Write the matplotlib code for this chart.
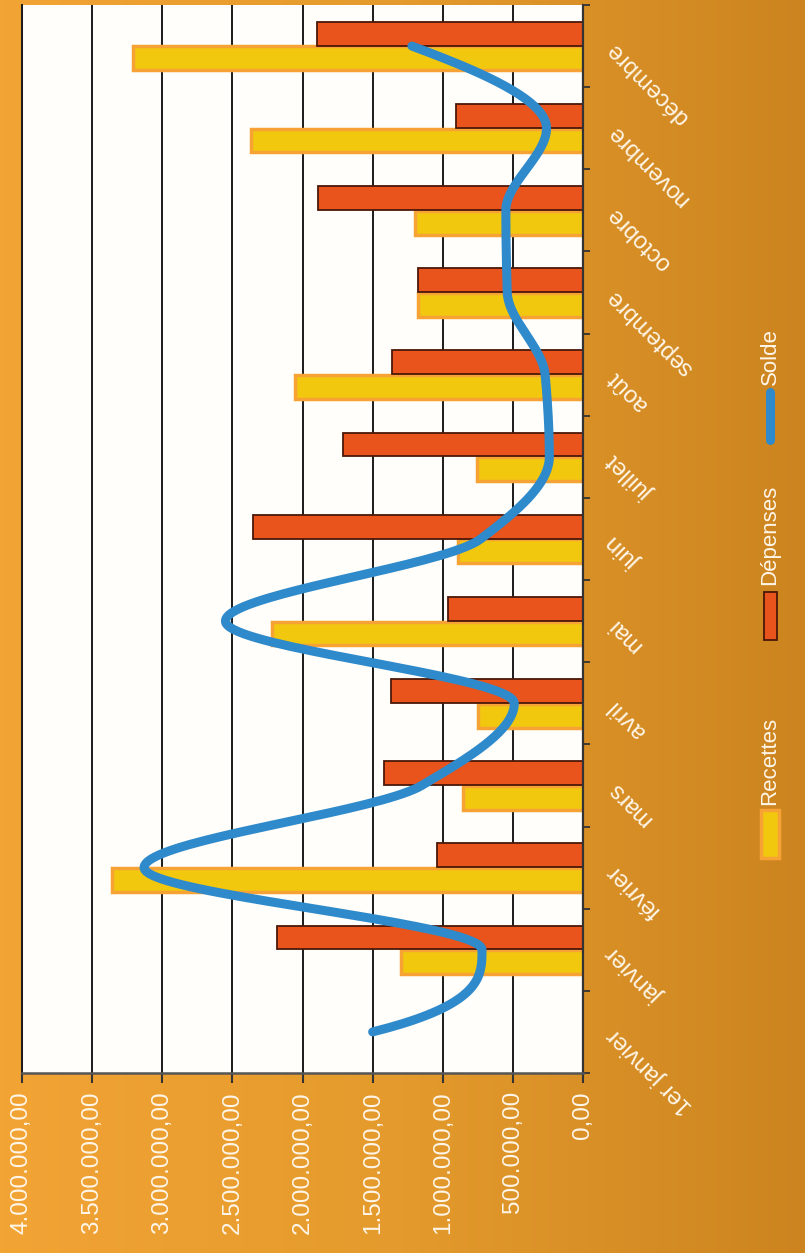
import numpy as np
import matplotlib.pyplot as plt
from matplotlib.colors import LinearSegmentedColormap
from matplotlib.ticker import FuncFormatter
from matplotlib.patches import Rectangle
from matplotlib.lines import Line2D

# Donnees
categories = ['1er janvier', 'janvier', 'février', 'mars', 'avril', 'mai', 'juin',
              'juillet', 'août', 'septembre', 'octobre', 'novembre', 'décembre']
recettes = [1.30e6, 3.355e6, 0.855e6, 0.75e6, 2.22e6, 0.89e6, 0.755e6, 2.05e6,
            1.18e6, 1.20e6, 2.37e6, 3.21e6]
depenses = [2.18e6, 1.04e6, 1.42e6, 1.37e6, 0.96e6, 2.35e6, 1.71e6, 1.36e6,
            1.18e6, 1.89e6, 0.905e6, 1.895e6]
solde = [1.50e6, 0.72e6, 3.13e6, 1.15e6, 0.49e6, 2.55e6, 0.73e6, 0.24e6, 0.27e6,
         0.54e6, 0.55e6, 0.26e6, 1.22e6]
ticks_valeurs = np.arange(0, 4.5e6, 5e5)

plt.rcParams['font.family'] = 'Liberation Sans'


def pchip(y, n=40):
    # courbe lissee (hermite monotone) entre les points
    y = np.asarray(y, float)
    delta = np.diff(y)
    d = np.zeros_like(y)
    for k in range(1, len(y) - 1):
        if delta[k - 1] * delta[k] > 0:
            d[k] = 2.0 / (1.0 / delta[k - 1] + 1.0 / delta[k])
    for k, (a, b) in [(0, (delta[0], delta[1])), (len(y) - 1, (delta[-1], delta[-2]))]:
        v = (3 * a - b) / 2
        if np.sign(v) != np.sign(a):
            v = 0
        elif np.sign(a) != np.sign(b) and abs(v) > abs(3 * a):
            v = 3 * a
        d[k] = v
    ts, xs = [], []
    for k in range(len(y) - 1):
        s = np.linspace(0, 1, n)
        h00 = 2 * s**3 - 3 * s**2 + 1
        h10 = s**3 - 2 * s**2 + s
        h01 = -2 * s**3 + 3 * s**2
        h11 = s**3 - s**2
        xs.append(h00 * y[k] + h10 * d[k] + h01 * y[k + 1] + h11 * d[k + 1])
        ts.append(k + s)
    return np.concatenate(xs), np.concatenate(ts)


fig = plt.figure(figsize=(8.05, 12.53), dpi=100)

# fond orange en degrade
bg = fig.add_axes([0, 0, 1, 1], zorder=-10)
cmap = LinearSegmentedColormap.from_list('fond', ['#F2A435', '#E49A2C', '#CC8420'])
bg.imshow(np.linspace(0, 1, 256).reshape(1, -1), aspect='auto', cmap=cmap,
          extent=[0, 1, 0, 1])
bg.axis('off')

ax = fig.add_axes([22 / 805, 1 - 1073 / 1253, (583 - 22) / 805, (1073 - 5) / 1253])
ax.set_facecolor('#FFFEFA')

pos = np.arange(len(categories))
mois = pos[1:]
ax.barh(mois - 0.15, recettes, height=0.29, color='#F2C80F', edgecolor='#F6A235',
        linewidth=2.5, zorder=2)
ax.barh(mois + 0.15, depenses, height=0.29, color='#E8541C', edgecolor='#4A1808',
        linewidth=1.3, zorder=2)

xs, ts = pchip(solde)
ax.plot(xs, ts, color='#2F8ACB', lw=6.5, solid_capstyle='round', zorder=3)

ax.set_xlim(4e6, 0)
ax.set_ylim(-0.5, len(categories) - 0.5)

ax.set_xticks(ticks_valeurs)
ax.xaxis.set_major_formatter(FuncFormatter(
    lambda v, p: f"{v:,.2f}".replace(',', ' ').replace('.', ',').replace(' ', '.')))
ax.tick_params(axis='x', direction='out', length=7, width=1.5, color='#333333',
               pad=6, labelsize=17.5, labelcolor='#FFF6E8', labelrotation=90)
ax.grid(axis='x', color='#1A1A1A', lw=1.4)
ax.set_axisbelow(True)

ax.yaxis.tick_right()
ax.set_yticks(pos)
ax.set_yticklabels(categories, rotation=135, rotation_mode='anchor', ha='right',
                   va='center', fontsize=17, color='#FFF6E8')
ax.tick_params(axis='y', which='major', length=0, pad=20)
ax.set_yticks(np.arange(-0.5, len(categories), 1), minor=True)
ax.tick_params(axis='y', which='minor', direction='out', length=5, width=1.3,
               color='#333333')

ax.spines['top'].set_visible(False)
ax.spines['left'].set_color('#1A1A1A')
ax.spines['left'].set_linewidth(1.4)
ax.spines['bottom'].set_color('#555555')
ax.spines['bottom'].set_linewidth(1.8)
ax.spines['right'].set_color('#333333')
ax.spines['right'].set_linewidth(1.6)

# legende (tournee comme le graphique)
W, H = 805, 1253
fig.patches.append(Rectangle((761 / W, 1 - 858 / H), 18 / W, 48 / H, transform=fig.transFigure,
                             facecolor='#F2C80F', edgecolor='#F6A235', lw=2.5))
fig.text(770 / W, 1 - 805 / H, 'Recettes', rotation=90, ha='center', va='bottom',
         fontsize=16, color='#FFF6E8')
fig.patches.append(Rectangle((764 / W, 1 - 640 / H), 13 / W, 48 / H, transform=fig.transFigure,
                             facecolor='#E8541C', edgecolor='#4A1808', lw=1.3))
fig.text(770 / W, 1 - 585 / H, 'Dépenses', rotation=90, ha='center', va='bottom',
         fontsize=16, color='#FFF6E8')
fig.lines.append(Line2D([770 / W, 770 / W], [1 - 440 / H, 1 - 392 / H],
                        transform=fig.transFigure, color='#2F8ACB', lw=6.5,
                        solid_capstyle='round'))
fig.text(770 / W, 1 - 385 / H, 'Solde', rotation=90, ha='center', va='bottom',
         fontsize=16, color='#FFF6E8')

fig.savefig('out.png', dpi=100)
